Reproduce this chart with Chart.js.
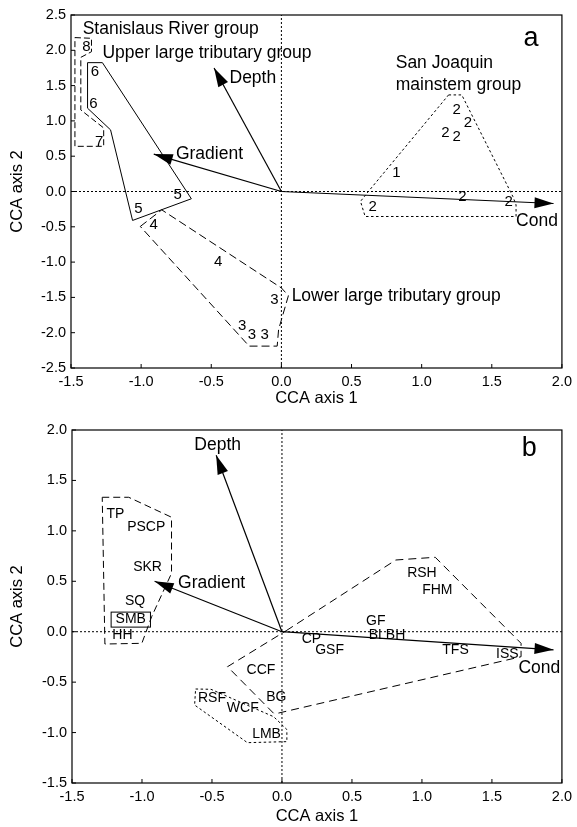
<!DOCTYPE html>
<html>
<head>
<meta charset="utf-8">
<script src="https://cdn.jsdelivr.net/npm/chart.js@4.4.1/dist/chart.umd.min.js"></script>
<style>
  body { margin: 0; background: #fff; }
  .panel { position: absolute; left: 0; width: 577px; }
</style>
</head>
<body>
<div class="panel" style="top:0;height:413px"><canvas id="chartA" width="577" height="413"></canvas></div>
<div class="panel" style="top:413px;height:414px"><canvas id="chartB" width="577" height="414"></canvas></div>
<script>
// ---- axis ticks ----
const xTicks = [-1.5, -1.0, -0.5, 0.0, 0.5, 1.0, 1.5, 2.0];
const yTicksA = [-2.5, -2.0, -1.5, -1.0, -0.5, 0.0, 0.5, 1.0, 1.5, 2.0, 2.5];
const yTicksB = [-1.5, -1.0, -0.5, 0.0, 0.5, 1.0, 1.5, 2.0];

// ---- environmental vectors ----
const envNames = ['Depth', 'Gradient', 'Cond'];
const envXA = [-0.48, -0.91, 1.94];
const envYA = [1.75, 0.53, -0.17];
const envXB = [-0.47, -0.91, 1.94];
const envYB = [1.75, 0.50, -0.18];

// ---- panel a: sites (group numbers) ----
const siteLabels = ['8', '6', '6', '7', '5', '5', '4', '4', '3', '3', '3', '3', '1', '2', '2', '2', '2', '2', '2', '2'];
const siteX = [-1.39, -1.33, -1.34, -1.30, -0.74, -1.02, -0.91, -0.45, -0.05, -0.28, -0.21, -0.12, 0.82, 1.25, 1.33, 1.17, 1.25, 1.29, 0.65, 1.62];
const siteY = [2.05, 1.70, 1.24, 0.71, -0.05, -0.25, -0.47, -1.00, -1.53, -1.90, -2.03, -2.03, 0.27, 1.16, 0.97, 0.83, 0.78, -0.08, -0.22, -0.14];

// panel a hulls
const stanX = [-1.472, -1.354, -1.354, -1.43, -1.43, -1.267, -1.267, -1.472];
const stanY = [2.18, 2.17, 1.98, 1.90, 1.155, 0.90, 0.64, 0.64];
const upperX = [-1.382, -1.276, -0.642, -1.061, -1.218, -1.382];
const upperY = [1.825, 1.825, -0.103, -0.41, 0.873, 1.18];
const lowerX = [-1.006, -0.853, 0.0, 0.05, -0.02, -0.03, -0.23];
const lowerY = [-0.495, -0.26, -1.366, -1.475, -1.956, -2.19, -2.19];
const sjX = [1.192, 1.286, 1.65, 1.673, 1.673, 0.597, 0.564, 0.62];
const sjY = [1.368, 1.368, -0.07, -0.19, -0.354, -0.354, -0.14, 0.0];

// ---- panel b: species ----
const species = ['TP', 'PSCP', 'SKR', 'SQ', 'SMB', 'HH', 'CCF', 'BG', 'RSF', 'WCF', 'LMB', 'RSH', 'FHM', 'GF', 'BLBH', 'CP', 'GSF', 'TFS', 'ISS'];
const speciesX = [-1.19, -0.97, -0.96, -1.05, -1.08, -1.14, -0.15, -0.04, -0.50, -0.28, -0.11, 1.00, 1.11, 0.67, 0.75, 0.21, 0.34, 1.24, 1.61];
const speciesY = [1.17, 1.04, 0.64, 0.30, 0.12, -0.03, -0.38, -0.65, -0.66, -0.76, -1.02, 0.58, 0.41, 0.10, -0.03, -0.07, -0.18, -0.18, -0.22];

// panel b hulls
const leftX = [-1.284, -1.095, -0.789, -0.789, -0.931, -1.001, -1.265];
const leftY = [1.333, 1.333, 1.135, 0.579, 0.149, -0.115, -0.122];
const rightX = [0.03, 0.813, 1.095, 1.708, 1.708, -0.035, -0.059, -0.389];
const rightY = [0.01, 0.711, 0.738, -0.115, -0.248, -0.81, -0.81, -0.347];
const bottomX = [-0.617, -0.507, -0.059, 0.035, 0.035, -0.247, -0.624];
const bottomY = [-0.568, -0.571, -0.843, -0.97, -1.09, -1.10, -0.727];

const FONT = "'Liberation Sans', Arial, Helvetica, sans-serif";
Chart.defaults.font.family = FONT;
Chart.defaults.color = '#000';

function pts(xs, ys) {
    return xs.map((v, i) => ({x: v, y: ys[i]}));
}

function hull(xs, ys, dash) {
    const p = pts(xs, ys);
    p.push(p[0]);
    return {data: p, showLine: true, borderColor: '#000', borderWidth: 1, borderDash: dash, pointRadius: 0, fill: false, tension: 0};
}

function axisLine(p1, p2) {
    return {data: [p1, p2], showLine: true, borderColor: '#000', borderWidth: 1, borderDash: [2, 2], pointRadius: 0, fill: false};
}

function arrows(xs, ys) {
    return xs.map((v, i) => ({
        data: [{x: 0, y: 0}, {x: v, y: ys[i]}],
        showLine: true, borderColor: '#000', borderWidth: 1.2, pointRadius: 0, fill: false, isArrow: true
    }));
}

const figurePlugin = {
    id: 'figure',
    afterDatasetsDraw(chart, args, opts) {
        const {ctx, chartArea: a, scales} = chart;
        const sx = scales.x, sy = scales.y;
        ctx.save();

        // arrow heads
        chart.data.datasets.forEach((ds, i) => {
            if (!ds.isArrow) return;
            const el = chart.getDatasetMeta(i).data;
            const p0 = el[0], p1 = el[1];
            const ang = Math.atan2(p1.y - p0.y, p1.x - p0.x);
            const len = 19, half = 5.5;
            ctx.beginPath();
            ctx.moveTo(p1.x, p1.y);
            ctx.lineTo(p1.x - len * Math.cos(ang) + half * Math.sin(ang), p1.y - len * Math.sin(ang) - half * Math.cos(ang));
            ctx.lineTo(p1.x - len * Math.cos(ang) - half * Math.sin(ang), p1.y - len * Math.sin(ang) + half * Math.cos(ang));
            ctx.closePath();
            ctx.fillStyle = '#000';
            ctx.fill();
        });

        // point labels
        ctx.fillStyle = '#000';
        ctx.textBaseline = 'middle';
        ctx.textAlign = 'center';
        chart.data.datasets.forEach((ds, i) => {
            if (!ds.pointLabels) return;
            ctx.font = (ds.labelSize || 14) + 'px ' + FONT;
            const el = chart.getDatasetMeta(i).data;
            ds.pointLabels.forEach((t, j) => {
                const px = el[j].x, py = el[j].y;
                ctx.fillText(t, px, py);
                if ((opts.boxed || []).includes(t)) {
                    const w = ctx.measureText(t).width;
                    ctx.lineWidth = 1;
                    ctx.strokeStyle = '#000';
                    ctx.strokeRect(px - w / 2 - 4.5, py - 7.5, w + 9, 15);
                }
            });
        });

        // free text annotations
        (opts.notes || []).forEach(n => {
            ctx.font = (n.size || 17.5) + 'px ' + FONT;
            ctx.textAlign = n.align || 'left';
            ctx.fillText(n.text, sx.getPixelForValue(n.x), sy.getPixelForValue(n.y));
        });

        // frame and inward ticks
        ctx.strokeStyle = '#000';
        ctx.lineWidth = 1.2;
        ctx.strokeRect(a.left, a.top, a.right - a.left, a.bottom - a.top);
        ctx.lineWidth = 1;
        ctx.beginPath();
        sx.ticks.forEach(t => {
            const px = sx.getPixelForValue(t.value);
            ctx.moveTo(px, a.bottom);
            ctx.lineTo(px, a.bottom - 4);
        });
        sy.ticks.forEach(t => {
            const py = sy.getPixelForValue(t.value);
            ctx.moveTo(a.left, py);
            ctx.lineTo(a.left + 4, py);
        });
        ctx.stroke();
        ctx.restore();
    }
};

function makeOptions(yMin, yMax, yTicks, pad, yWidth, xHeight, xTitlePad, notes, boxed) {
    return {
        responsive: false,
        animation: false,
        layout: {padding: pad},
        plugins: {
            legend: {display: false},
            tooltip: {enabled: false},
            figure: {notes: notes, boxed: boxed}
        },
        scales: {
            x: {
                type: 'linear', min: -1.5, max: 2.0,
                afterBuildTicks: s => { s.ticks = xTicks.map(v => ({value: v})); },
                afterFit: s => { s.height = xHeight; },
                grid: {display: false, drawTicks: false},
                border: {display: false},
                ticks: {font: {size: 14.5}, padding: 5, maxRotation: 0, autoSkip: false, callback: v => v.toFixed(1)},
                title: {display: true, text: 'CCA axis 1', font: {size: 16.5}, padding: {top: 0, bottom: xTitlePad}}
            },
            y: {
                type: 'linear', min: yMin, max: yMax,
                afterBuildTicks: s => { s.ticks = yTicks.map(v => ({value: v})); },
                afterFit: s => { s.width = yWidth; },
                grid: {display: false, drawTicks: false},
                border: {display: false},
                ticks: {font: {size: 14.5}, padding: 5, autoSkip: false, callback: v => v.toFixed(1)},
                title: {display: true, text: 'CCA axis 2', font: {size: 16.5}, padding: {top: 8, bottom: 0}}
            }
        }
    };
}

// ---- panel a ----
const notesA = [
    {text: 'Stanislaus River group', x: -1.417, y: 2.30},
    {text: 'Upper large tributary group', x: -1.276, y: 1.96},
    {text: 'San Joaquin', x: 0.815, y: 1.82},
    {text: 'mainstem group', x: 0.815, y: 1.51},
    {text: 'Lower large tributary group', x: 0.073, y: -1.485},
    {text: envNames[0], x: -0.37, y: 1.61},
    {text: envNames[1], x: -0.752, y: 0.533},
    {text: envNames[2], x: 1.673, y: -0.424},
    {text: 'a', x: 1.78, y: 2.17, size: 27, align: 'center'}
];

new Chart(document.getElementById('chartA'), {
    type: 'scatter',
    data: {
        datasets: [
            axisLine({x: 0, y: -2.5}, {x: 0, y: 2.5}),
            axisLine({x: -1.5, y: 0}, {x: 2, y: 0}),
            hull(stanX, stanY, [6, 3]),
            hull(upperX, upperY, []),
            hull(lowerX, lowerY, [8, 4]),
            hull(sjX, sjY, [2.5, 2.5]),
            ...arrows(envXA, envYA),
            {data: pts(siteX, siteY), pointRadius: 0, showLine: false, pointLabels: siteLabels, labelSize: 15}
        ]
    },
    options: makeOptions(-2.5, 2.5, yTicksA, {left: 0, top: 15, right: 11, bottom: 0}, 71, 45, 5, notesA, []),
    plugins: [figurePlugin]
});

// ---- panel b ----
const notesB = [
    {text: envNames[0], x: -0.459, y: 1.852, align: 'center'},
    {text: envNames[1], x: -0.742, y: 0.486},
    {text: envNames[2], x: 1.689, y: -0.357},
    {text: 'b', x: 1.767, y: 1.812, size: 27, align: 'center'}
];

new Chart(document.getElementById('chartB'), {
    type: 'scatter',
    data: {
        datasets: [
            axisLine({x: 0, y: -1.5}, {x: 0, y: 2}),
            axisLine({x: -1.5, y: 0}, {x: 2, y: 0}),
            hull(leftX, leftY, [7, 4]),
            hull(rightX, rightY, [8, 5]),
            hull(bottomX, bottomY, [2.5, 2.5]),
            ...arrows(envXB, envYB),
            {data: pts(speciesX, speciesY), pointRadius: 0, showLine: false, pointLabels: species, labelSize: 14}
        ]
    },
    options: makeOptions(-1.5, 2.0, yTicksB, {left: 0, top: 17, right: 10, bottom: 0}, 72, 44, 1, notesB, ['SMB']),
    plugins: [figurePlugin]
});
</script>
</body>
</html>
